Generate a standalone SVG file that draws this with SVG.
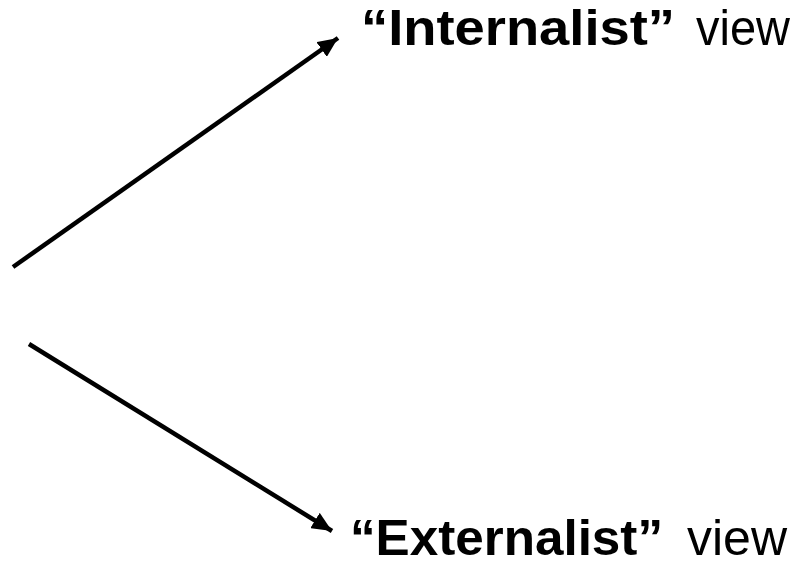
<svg xmlns="http://www.w3.org/2000/svg" width="795" height="568" viewBox="0 0 795 568">
  <style>
    .lbl { font-family: "Liberation Sans", Arial, sans-serif; font-size: 50px; fill: #000; }
    .b { font-weight: bold; }
    .conn { stroke: #000; stroke-width: 4.5; fill: none; }
  </style>
  <defs>
    <marker id="ah" markerUnits="userSpaceOnUse" markerWidth="22" markerHeight="18" refX="20" refY="9" orient="auto">
      <path d="M0,0 L20,9 L0,18 Z" fill="#000"/>
    </marker>
  </defs>
  <rect width="795" height="568" fill="#fff"/>
  <g id="connectors">
    <line class="conn" x1="13" y1="267" x2="338" y2="38" marker-end="url(#ah)"/>
    <line class="conn" x1="29" y1="344" x2="332" y2="531" marker-end="url(#ah)"/>
  </g>
  <g id="internalist">
    <text class="lbl b" x="361" y="45" textLength="314" lengthAdjust="spacingAndGlyphs">“Internalist”</text>
    <text class="lbl" x="696" y="45" textLength="94" lengthAdjust="spacingAndGlyphs">view</text>
  </g>
  <g id="externalist">
    <text class="lbl b" x="350" y="555" textLength="313" lengthAdjust="spacingAndGlyphs">“Externalist”</text>
    <text class="lbl" x="687" y="555" textLength="100" lengthAdjust="spacingAndGlyphs">view</text>
  </g>
</svg>
